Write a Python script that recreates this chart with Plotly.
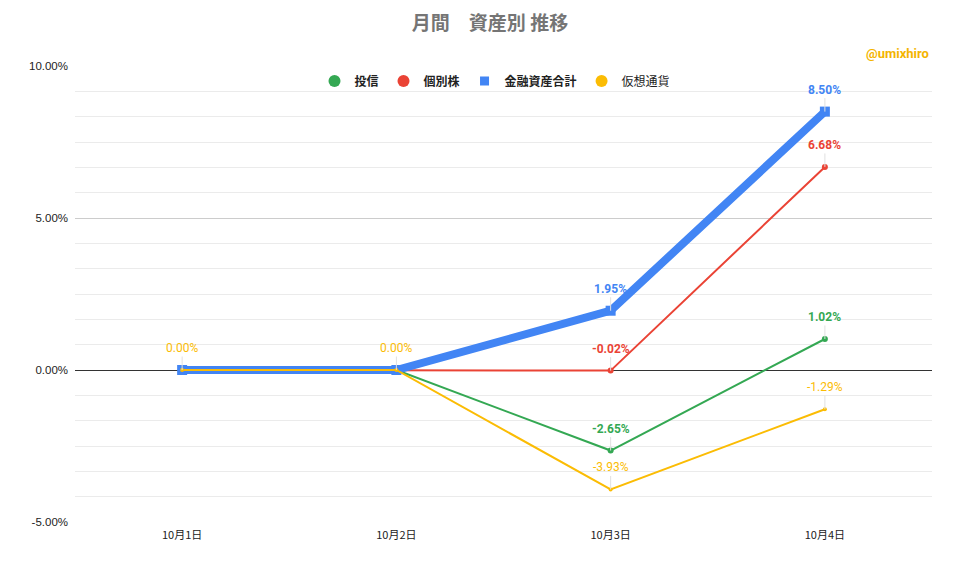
import plotly.graph_objects as go

categories = ["10月1日", "10月2日", "10月3日", "10月4日"]
toushin = [0.00, 0.00, -2.65, 1.02]
kobetsu = [0.00, 0.00, -0.02, 6.68]
kinyu_total = [0.00, 0.00, 1.95, 8.50]
kaso = [0.00, 0.00, -3.93, -1.29]

y_tick_vals = [-5, 0, 5, 10]
y_tick_text = ["-5.00%", "0.00%", "5.00%", "10.00%"]

# which data labels are visible in the reference
toushin_labels = [False, False, True, True]
kobetsu_labels = [False, False, True, True]
kinyu_labels = [False, False, True, True]
kaso_labels = [True, True, True, True]

GREEN = "#34a853"
RED = "#ea4335"
BLUE = "#4285f4"
YELLOW = "#fbbc04"

series = [
    ("投信", toushin, GREEN, 2, "circle", 6, toushin_labels, True),
    ("個別株", kobetsu, RED, 2, "circle", 6, kobetsu_labels, True),
    ("金融資産合計", kinyu_total, BLUE, 8, "square", 10, kinyu_labels, True),
    ("仮想通貨", kaso, YELLOW, 2, "circle", 4, kaso_labels, False),
]

# page has an 8px body margin, so the figure is laid out in page coords minus 8
OFF = 8
W, H = 944, 553
L, T = 75 - OFF, 66 - OFF
R = W - (932 - OFF)
B = H - (522 - OFF)
PW, PH = W - L - R, H - T - B

fig = go.Figure()
x_idx = list(range(len(categories)))

for name, vals, color, lw, sym, ms, _, bold in series:
    fig.add_trace(go.Scatter(
        x=x_idx, y=vals, mode="lines+markers",
        line=dict(color=color, width=lw),
        marker=dict(color=color, size=ms, symbol=sym),
        showlegend=False, hoverinfo="skip",
    ))

for name, vals, color, lw, sym, ms, _, bold in series:
    fig.add_trace(go.Scatter(
        x=[None], y=[None], mode="markers",
        marker=dict(color=color, size=12 if sym == "circle" else 9, symbol=sym),
        name=(f"<b>{name}</b>" if bold else name),
        showlegend=True,
    ))

annotations = []
for name, vals, color, lw, sym, ms, shown, bold in series:
    for i, v in enumerate(vals):
        if not shown[i]:
            continue
        txt = f"{v:.2f}%"
        annotations.append(dict(
            x=i, y=v, xref="x", yref="y",
            text=(f"<b>{txt}</b>" if bold else txt),
            showarrow=True, arrowhead=0, arrowwidth=1, arrowcolor="#e0e0e0",
            ax=0, ay=-22, standoff=0, startstandoff=0,
            font=dict(family="Roboto, Arial", size=12, color=color),
        ))

annotations.append(dict(
    x=(931 - OFF - L) / PW, y=(H - B - (53 - OFF)) / PH, xref="paper", yref="paper",
    text="<b>@umixhiro</b>",
    showarrow=False, xanchor="right", yanchor="middle",
    font=dict(family="Roboto, Arial", size=13, color="#f4b400"),
))

fig.update_layout(
    width=W, height=H,
    margin=dict(l=L, r=R, t=T, b=B, autoexpand=False),
    paper_bgcolor="white", plot_bgcolor="white",
    title=dict(text="<b>月間　資産別 推移</b>", xref="container", x=(490 - OFF) / W, xanchor="center",
               yref="container", y=1 - (23 - OFF) / H, yanchor="middle",
               font=dict(family="Noto Sans CJK JP", size=19, color="#757575")),
    legend=dict(orientation="h", x=(495 - 75) / PW, xanchor="center", y=1 - 15 / PH, yanchor="middle",
                font=dict(family="Noto Sans CJK JP", size=12, color="#222222"),
                bgcolor="rgba(0,0,0,0)", itemwidth=30, tracegroupgap=0),
    xaxis=dict(
        tickvals=x_idx, ticktext=categories, range=[-0.5, 3.5],
        showgrid=False, zeroline=False, showline=False, ticks="",
        ticklabelstandoff=5,
        tickfont=dict(family="Noto Sans CJK JP", size=11, color="#222222"),
    ),
    yaxis=dict(
        range=[-5, 10], tickvals=y_tick_vals, ticktext=y_tick_text,
        showgrid=True, gridcolor="#cccccc", gridwidth=1,
        zeroline=True, zerolinecolor="#333333", zerolinewidth=1,
        showline=False, ticks="", ticklabelstandoff=6,
        tickfont=dict(family="Arial, Liberation Sans", size=11.5, color="#222222"),
        minor=dict(dtick=5 / 6, tick0=0, showgrid=True, gridcolor="#ebebeb", gridwidth=1),
    ),
    annotations=annotations,
)

fig.write_html("out.html")
